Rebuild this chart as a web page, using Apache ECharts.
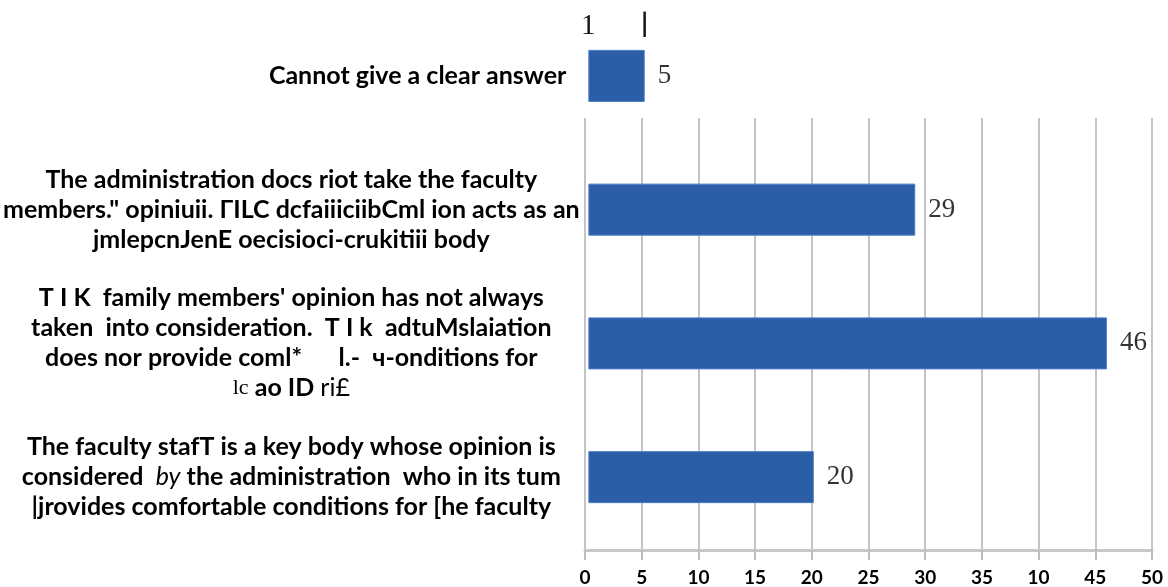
<!DOCTYPE html>
<html><head><meta charset="utf-8">
<script src="https://cdn.jsdelivr.net/npm/echarts@6/dist/echarts.min.js"></script>
<style>html,body{margin:0;padding:0;background:#fff}#c{width:1168px;height:587px}</style>
</head><body><div id="c"></div>
<script>
const categories = [
  "Cannot give a clear answer",
  "The administration docs riot take the faculty\nmembers.\" opiniuii. ΓΙLC dcfaiiiciibCml ion acts as an\njmlepcnJenE oecisioci-crukitiii body",
  "T I K  family members' opinion has not always\ntaken  into consideration.  T I k  adtuMslaiation\ndoes nor provide coml*      l.-  ч-onditions for\nlc ao ID ri£",
  "The faculty stafT is a key body whose opinion is\nconsidered  by the administration  who in its tum\n|jrovides comfortable conditions for [he faculty"
];
const values = [5, 29, 46, 20];
const xTickLabels = ["0","5","10","15","20","25","30","35","10","45","50"];
const topTickLabels = ["1","|"];

const baseFont = {fontFamily:'Lato', fontWeight:'bold', fontSize:25, color:'#000'};

const chart = echarts.init(document.getElementById('c'));
chart.setOption({
  animation:false,
  grid:[
    {left:585, right:16, top:9, height:535},
    {left:585, right:16, top:118, bottom:37}
  ],
  xAxis:[
    {gridIndex:0, type:'value', min:0, max:50, interval:5, position:'top',
     axisLine:{show:false}, axisTick:{show:false}, splitLine:{show:false},
     axisLabel:{inside:true, margin:3, color:'#111', fontFamily:'Lato', fontWeight:'bold', fontSize:24,
       formatter:(v,i)=> i===0 ? '{one|'+topTickLabels[0]+'}' : (i===1 ? '{bar|'+topTickLabels[1]+'}' : ''),
       rich:{one:{fontFamily:'Liberation Serif', fontWeight:'normal', fontSize:29, color:'#111'},
             bar:{fontFamily:'Lato', fontWeight:'bold', fontSize:26, color:'#111'}}}},
    {gridIndex:1, type:'value', min:0, max:50, interval:5,
     axisLine:{show:true, lineStyle:{color:'#c8c8c8', width:3}},
     axisTick:{show:true, length:10, lineStyle:{color:'#bdbdbd', width:2}},
     splitLine:{show:true, lineStyle:{color:'#c4c4c4', width:2}},
     axisLabel:{margin:18, fontFamily:'Lato', fontWeight:'bold', fontSize:19, color:'#000',
       formatter:(v,i)=> xTickLabels[i]}}
  ],
  yAxis:[
    {gridIndex:0, type:'category', inverse:true, data:categories,
     axisLine:{show:false}, axisTick:{show:false},
     axisLabel:Object.assign({margin:297, align:'center', lineHeight:30,
       formatter:(v,i)=>{
         if(i===0) return '{r|'+v+'}';
         return v.replace(' by ', ' {i|by} ').replace('lc ao', '{s|lc} ao').replace('ri£', '{n|ri£}');
       },
       rich:{
         r:Object.assign({width:550, align:'right', lineHeight:30}, baseFont),
         i:{fontFamily:'Lato', fontStyle:'italic', fontWeight:'normal', fontSize:25, color:'#000', lineHeight:30},
         s:{fontFamily:'Liberation Serif', fontWeight:'normal', fontSize:22, color:'#000', lineHeight:30},
         n:{fontFamily:'Lato', fontWeight:'normal', fontSize:25, color:'#000', lineHeight:30}
       }}, baseFont)},
    {gridIndex:1, type:'category', data:[''], show:false}
  ],
  series:[{
    type:'bar', xAxisIndex:0, yAxisIndex:0, data:values, barWidth:52,
    itemStyle:{color:'#2c5ea8', borderColor:'#4a7cc4', borderWidth:1},
    label:{show:true, position:'right', distance:13, fontFamily:'Liberation Serif', fontSize:27, color:'#333'}
  }]
});
</script></body></html>
